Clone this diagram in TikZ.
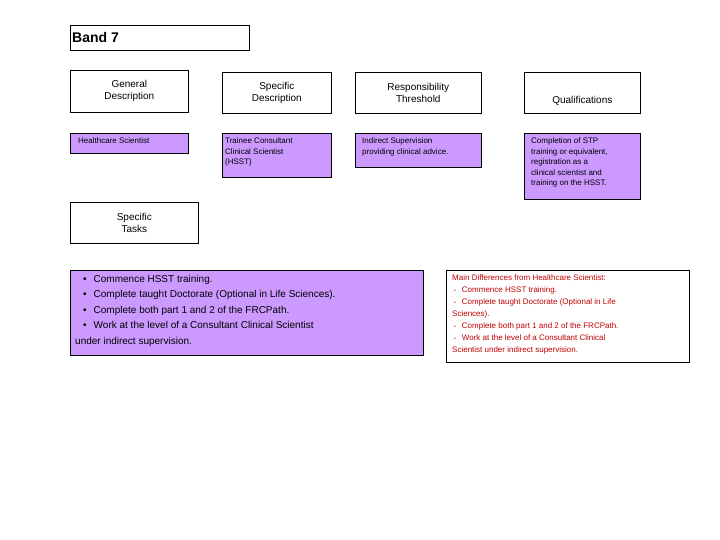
\documentclass[tikz,border=0pt]{standalone}
\usepackage{fontspec}
\setmainfont{Liberation Sans}
\definecolor{lav}{HTML}{CC99FF}
\definecolor{redt}{HTML}{C00000}
\begin{document}
\begin{tikzpicture}[x=1pt,y=-1pt,
  box/.style={draw=black,line width=0.6pt,anchor=north west,inner sep=0pt},
  txt/.style={anchor=north west,inner sep=0pt,align=left,font=\fontsize{8}{10.5}\selectfont},
  hd/.style={align=center,font=\fontsize{10}{12}\selectfont}]
\useasboundingbox (0,0) rectangle (720,540);
\node[box,minimum width=179,minimum height=25] (band) at (70,25) {};
\node[anchor=west,inner sep=0pt,font=\fontsize{14}{16}\bfseries\selectfont] at ([xshift=2pt]band.west) {Band 7};
% headers
\node[box,minimum width=118,minimum height=42,fill=white] (gd) at (70,70) {};
\node[hd] at (gd.center) {General\\Description};
\node[box,minimum width=109,minimum height=41] (sd) at (222,72) {};
\node[hd] at (sd.center) {Specific\\Description};
\node[box,minimum width=126,minimum height=41] (rt) at (355,72) {};
\node[hd] at (rt.center) {Responsibility\\Threshold};
\node[box,minimum width=116,minimum height=41] (q) at (524,72) {};
\node[hd] at ([yshift=-8]q.center) {Qualifications};
% row
\node[box,fill=lav,minimum width=118,minimum height=20] (hs) at (70,133) {};
\node[txt] at ([shift={(8,5)}]hs.north west) {Healthcare Scientist};
\node[box,fill=lav,minimum width=109,minimum height=44] (tc) at (222,133) {};
\node[txt] at ([shift={(3,5)}]tc.north west) {Trainee Consultant\\Clinical Scientist\\(HSST)};
\node[box,fill=lav,minimum width=126,minimum height=34] (is) at (355,133) {};
\node[txt] at ([shift={(7,5)}]is.north west) {Indirect Supervision\\providing clinical advice.};
\node[box,fill=lav,minimum width=116,minimum height=66] (cs) at (524,133) {};
\node[txt] at ([shift={(7,5)}]cs.north west) {Completion of STP\\training or equivalent,\\registration as a\\clinical scientist and\\training on the HSST.};
% tasks
\node[box,minimum width=128,minimum height=41] (st) at (70,202) {};
\node[hd] at ([xshift=0]st.center) {Specific\\Tasks};
\node[box,fill=lav,minimum width=353,minimum height=85] (bl) at (70,270) {};
\node[txt,font=\fontsize{10}{15.5}\selectfont] at ([shift={(13,5)}]bl.north west) {•\hspace{7pt}Commence HSST training.\\•\hspace{7pt}Complete taught Doctorate (Optional in Life Sciences).\\•\hspace{7pt}Complete both part 1 and 2 of the FRCPath.\\•\hspace{7pt}Work at the level of a Consultant Clinical Scientist};
\node[txt,font=\fontsize{10}{15.5}\selectfont] at ([shift={(5,67)}]bl.north west) {under indirect supervision.};
\node[box,minimum width=243,minimum height=92] (md) at (446,270) {};
\node[txt,text=redt,font=\fontsize{8}{12}\selectfont] at ([shift={(6,5)}]md.north west) {Main Differences from Healthcare Scientist:\\
\hspace*{2pt}{\tiny\textbullet}\hspace{6pt}Commence HSST training.\\
\hspace*{2pt}{\tiny\textbullet}\hspace{6pt}Complete taught Doctorate (Optional in Life\\Sciences).\\
\hspace*{2pt}{\tiny\textbullet}\hspace{6pt}Complete both part 1 and 2 of the FRCPath.\\
\hspace*{2pt}{\tiny\textbullet}\hspace{6pt}Work at the level of a Consultant Clinical\\Scientist under indirect supervision.};
\end{tikzpicture}
\end{document}
